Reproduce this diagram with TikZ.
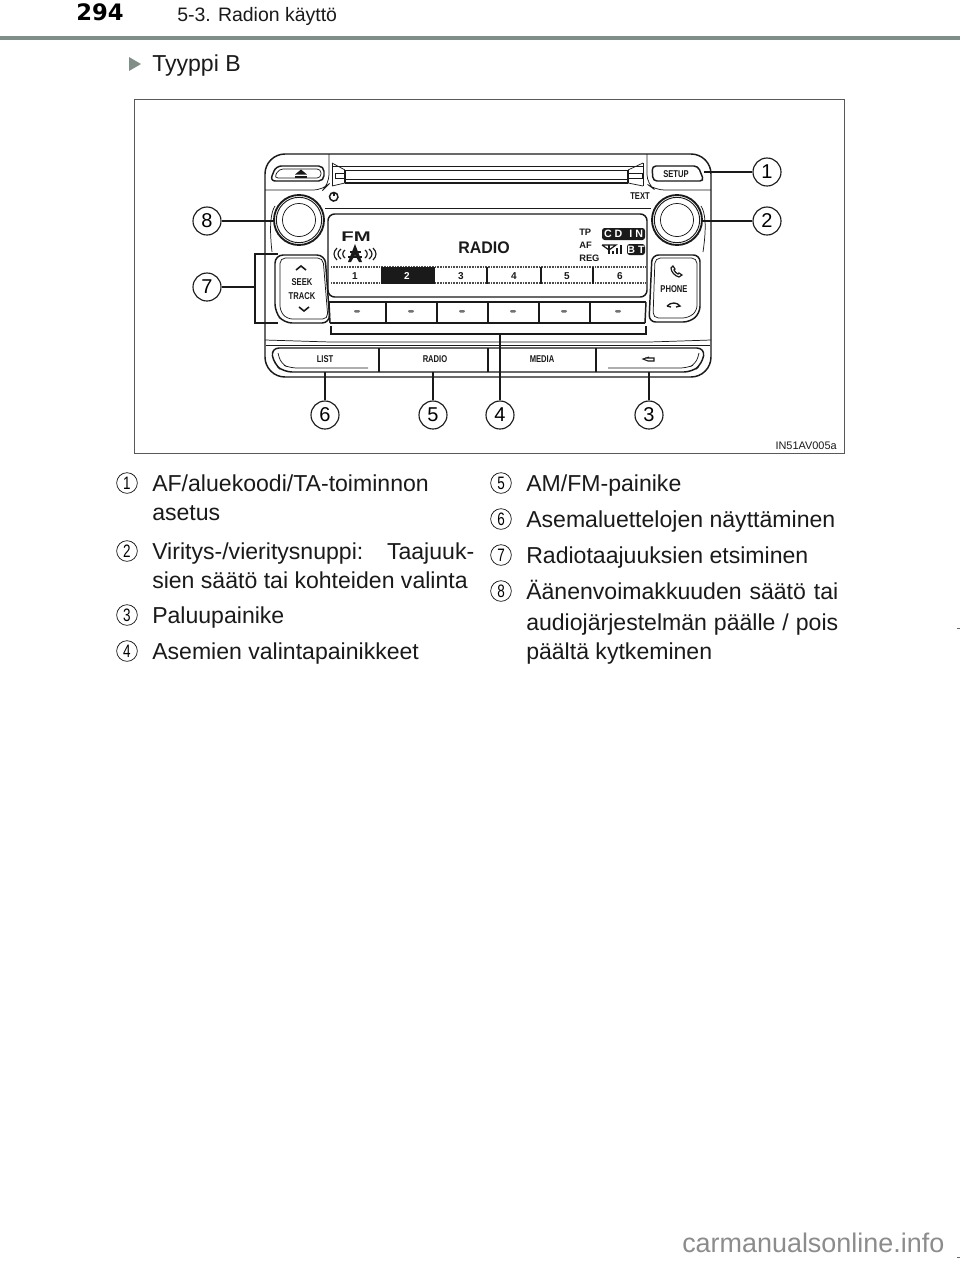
\documentclass[tikz,border=0pt]{standalone}
\usepackage{fontspec}
\setmainfont{Liberation Sans}
\newfontfamily\hdfont[Scale=1]{DejaVu Sans}
\definecolor{ink}{HTML}{1A1A1A}
\definecolor{rulegreen}{HTML}{7F8F88}
\newcommand{\lab}[1]{\scalebox{1}[1.3]{\bfseries #1}}
\newcommand{\stretched}[2]{\makebox[#1][s]{#2}}
\tikzset{
  thickl/.style={draw=ink,line width=1.1pt},
  thinl/.style={draw=ink,line width=0.55pt},
  frameline/.style={draw=black!65,line width=0.65pt},
  leader/.style={draw=ink,line width=0.8pt},
  callout/.style={circle,draw=ink,line width=0.85pt,fill=white,minimum size=21pt,inner sep=0pt,font=\fontsize{15}{15}\selectfont},
  itemnum/.style={circle,draw=ink,line width=0.55pt,minimum size=15.5pt,inner sep=0pt,font=\fontsize{13.5}{13.5}\selectfont},
  body/.style={anchor=base west,inner sep=0pt,font=\fontsize{17.3}{20}\selectfont,text=ink},
  radiolab/.style={inner sep=0pt,font=\fontsize{5.7}{6}\selectfont,text=ink},
  preset/.style={inner sep=0pt,font=\fontsize{7.5}{8}\bfseries\selectfont,text=ink},
  disp/.style={inner sep=0pt,font=\fontsize{7}{8}\bfseries\selectfont,text=ink},
}
\begin{document}
\begin{tikzpicture}[x=0.75pt,y=-0.75pt]
\useasboundingbox (0,0) rectangle (960,1261);
\fill[white] (0,0) rectangle (960,1261);
% header
\node[anchor=base west,inner sep=0pt,font=\hdfont\fontsize{17}{18}\bfseries\selectfont] (pageno) at (76,20) {294};
\node[anchor=base west,inner sep=0pt,font=\fontsize{14.6}{16}\selectfont,text=ink] (chap) at (177,21) {5-3. Radion käyttö};
\fill[rulegreen] (0,36) rectangle (960,40);
\fill[rulegreen] (129,57) -- (141,64) -- (129,71) -- cycle;
\node[body] (type) at (152,71) {Tyyppi B};
% frame
\draw[frameline] (134,99) rectangle (844,453);
\node[anchor=base east,inner sep=0pt,font=\fontsize{8.2}{9}\selectfont,text=ink] (code) at (837,449) {IN51AV005a};
% radio body
\draw[thickl,rounded corners=15pt] (265,154) rectangle (711,377);
% top pads
\draw[thinl,rounded corners=7pt] (265,190) -- (323,190) -- (329,184) -- (329,154);
\draw[thinl,rounded corners=7pt] (711,190) -- (655,190) -- (647,184) -- (647,154);
% eject button
\draw[thickl,rounded corners=4pt] (270,181) -- (276,166) -- (324,166) -- (324,181) -- cycle;
\draw[thinl,rounded corners=3pt] (274,178) -- (279,169) -- (321,169) -- (321,178) -- cycle;
\fill[ink] (295,174.5) -- (301,169.5) -- (307,174.5) -- cycle;
\fill[ink] (295,176) rectangle (307,178);
% slot
\draw[thinl] (345,170) -- (628,170);
\draw[thinl] (345,179) -- (628,179);
\draw[thinl] (332,166) -- (643,166);
\draw[thickl] (345,183) -- (628,183);
\draw[thinl] (332,163) -- (345,170) (332,186) -- (345,183);
\draw[thinl] (643,163) -- (628,170) (643,186) -- (628,183);
\draw[thinl] (332,163) -- (332,186) (643,163) -- (643,186);
\draw[thinl] (335,173) rectangle (345,178);
\draw[thinl] (628,173) rectangle (642,178);
\fill[ink] (344,170) rectangle (346,183);
\fill[ink] (627,170) rectangle (629,183);
% setup
\draw[thickl,rounded corners=3pt] (652,166) -- (698,166) -- (704,181) -- (653,181) -- cycle;
\node[radiolab] (setup) at (676,174) {\lab{SETUP}};
\node[radiolab] (text) at (640,196) {\lab{TEXT}};
% power icon
\draw[ink,line width=1.1pt] (334,192.5) -- (334,196);
\draw[ink,line width=1.1pt] (331,193.5) arc[start angle=130,end angle=-310+360-360,radius=3.2pt];
% line above display
\draw[thinl] (325,208) -- (651,208);
% knobs
\draw[ink,line width=1.4pt,fill=white] (299,220) circle (18.75pt);
\draw[ink,line width=0.7pt] (299,220) circle (17pt);
\draw[thinl] (299,220) circle (12.4pt);
\draw[ink,line width=1.4pt,fill=white] (677,220) circle (18.75pt);
\draw[ink,line width=0.7pt] (677,220) circle (17pt);
\draw[thinl] (677,220) circle (12.4pt);
\draw[thinl] (275,206) .. controls (271,212) and (269,225) .. (272,252);
\draw[thinl] (701,206) .. controls (705,212) and (707,225) .. (703,252);
% display
\draw[thickl,rounded corners=5pt] (328,214) rectangle (647,297);
\node[inner sep=0pt,font=\fontsize{12.6}{14}\bfseries\selectfont,text=ink] (radiotxt) at (484,248) {\scalebox{0.95}[1]{RADIO}};
\node[inner sep=0pt,font=\fontsize{10.5}{11}\bfseries\selectfont,text=ink] (fm) at (356,237) {\scalebox{1.45}[1]{FM}};
% tower and waves
\fill[ink] (355,244) -- (348,262) -- (351,262) -- (355,255) -- (359,262) -- (362,262) -- cycle;
\draw[ink,line width=1pt] (349.5,252) -- (360.5,252);
\draw[ink,line width=1pt] (348,257) -- (362,257);
\draw[ink,line width=0.9pt] (345,250) .. controls (342,252) and (342,256) .. (345,258);
\draw[ink,line width=0.9pt] (341,249) .. controls (337,252) and (337,256) .. (341,259);
\draw[ink,line width=0.9pt] (337,248) .. controls (333,252) and (333,256) .. (337,260);
\draw[ink,line width=0.9pt] (365,250) .. controls (368,252) and (368,256) .. (365,258);
\draw[ink,line width=0.9pt] (369,249) .. controls (373,252) and (373,256) .. (369,259);
\draw[ink,line width=0.9pt] (373,248) .. controls (377,252) and (377,256) .. (373,260);
% status
\node[disp,anchor=west] (tp) at (579,232) {TP};
\node[disp,anchor=west] (af) at (579,245) {AF};
\node[disp,anchor=west] (reg) at (579,258) {REG};
\fill[ink,rounded corners=2pt] (602,228) rectangle (645,240);
\node[inner sep=0pt,font=\fontsize{8}{8}\bfseries\selectfont,text=white] (cdin) at (623.5,234) {C D\hspace{3pt} I N};
\fill[ink,rounded corners=2pt] (627,244) rectangle (645,255);
\node[inner sep=0pt,font=\fontsize{8}{8}\bfseries\selectfont,text=white] (bt) at (636,249.5) {B T};
\draw[ink,line width=0.9pt] (602,245) -- (616,245) -- (609,250) -- (602,245);
\draw[ink,line width=1.1pt] (609,245) -- (609,254);
\draw[ink,line width=1.2pt] (613,254) -- (613,251) (617,254) -- (617,248) (621,254) -- (621,245);
% presets
\draw[black!70,line width=1.3pt,dash pattern=on 0.6pt off 0.6pt] (331,267) -- (645,267);
\draw[black!70,line width=1.3pt,dash pattern=on 0.6pt off 0.6pt] (331,283) -- (645,283);
\fill[ink] (383,267) rectangle (434,283.5);
\foreach \sx in {382,434,487,541,593}{\fill[ink] (\sx-1,267) rectangle (\sx+1,284);}
\node[preset] (p1) at (355,276) {1};
\node[preset,text=white] (p2) at (407,276) {2};
\node[preset] (p3) at (461,276) {3};
\node[preset] (p4) at (514,276) {4};
\node[preset] (p5) at (567,276) {5};
\node[preset] (p6) at (620,276) {6};
% button row below display
\draw[thickl] (329,302) -- (646,302);
\draw[thickl] (330,323) -- (645,323);
\draw[thickl] (329,302) -- (330,323) (646,302) -- (645,323);
\foreach \sx in {386,437,488,539,590}{\draw[thickl] (\sx,302) -- (\sx,323);}
\foreach \sx in {357,411,462,513,564,618}{\fill[black!55,rounded corners=0.8pt] (\sx-3,310) rectangle (\sx+3,312.5);}
% seek pad
\draw[thickl,rounded corners=6pt] (275,255) -- (325,255) -- (330,323) -- (284,323) -- (275,312) -- cycle;
\draw[thinl,rounded corners=4pt] (280,258) -- (323,258) -- (328,319) -- (287,319) -- (280,311) -- cycle;
\draw[ink,line width=1.2pt] (296,270) -- (301,266) -- (306,270);
\draw[ink,line width=1.2pt] (299,307) -- (304,311) -- (309,307);
\node[radiolab] (seek) at (302,282) {\lab{SEEK}};
\node[radiolab] (track) at (302,296) {\lab{TRACK}};
% phone pad
\draw[thickl,rounded corners=5pt] (652,255) -- (700,255) -- (700,313) -- (690,322) -- (649,322) -- cycle;
\draw[thinl,rounded corners=4pt] (655,258) -- (697,258) -- (697,311) -- (688,318) -- (653,318) -- cycle;
\node[radiolab] (phone) at (674,289) {\lab{PHONE}};
\draw[ink,line width=0.9pt] (671,268) .. controls (671,272) and (675,276) .. (679,277) -- (682,275) -- (679,273) -- (678,274) .. controls (676,273) and (675,272) .. (674,270) -- (675,269) -- (673,266) -- cycle;
\draw[ink,line width=1pt] (667,306) .. controls (671,302) and (677,302) .. (680,306) -- (676,307);
\draw[ink,line width=1pt] (667,306) -- (671,307);
% panel dividers
\draw[thinl,rounded corners=5pt] (265,340) -- (330,342) -- (650,342) -- (711,340);
\draw[thinl] (266,345) -- (710,345);
% bottom buttons
\draw[thickl,rounded corners=6pt] (271,348) -- (705,348) -- (702,364) -- (692,372) -- (284,372) -- (274,364) -- cycle;
\draw[thinl,rounded corners=5pt] (278,353) -- (281,364) -- (290,368) -- (368,368);
\draw[thinl,rounded corners=5pt] (699,353) -- (696,364) -- (687,368) -- (608,368);
\foreach \sx in {379,488,596}{\draw[thickl] (\sx,348) -- (\sx,372);}
\node[radiolab] (list) at (325,359) {\lab{LIST}};
\node[radiolab] (radiob) at (435,359) {\lab{RADIO}};
\node[radiolab] (media) at (542,359) {\lab{MEDIA}};
\draw[ink,line width=0.8pt] (649,357) -- (643,359) -- (648,361) -- (654,361) -- (654,358) -- (645,358);
% brackets
\draw[leader] (331,326) -- (331,334) -- (646,334) -- (646,326);
\draw[leader] (278,254) -- (255,254) -- (255,323) -- (278,323);
% callouts
\node[callout] (c1) at (767,172) {1};
\node[callout] (c2) at (767,221) {2};
\node[callout] (c3) at (649,415) {3};
\node[callout] (c4) at (500,415) {4};
\node[callout] (c5) at (433,415) {5};
\node[callout] (c6) at (325,415) {6};
\node[callout] (c7) at (207,287) {7};
\node[callout] (c8) at (207,221) {8};
\coordinate (e1) at (704,172);
\coordinate (e2) at (702,221);
\coordinate (e3) at (649,372);
\coordinate (e4) at (500,334);
\coordinate (e5) at (433,372);
\coordinate (e6) at (325,372);
\coordinate (e7) at (255,287);
\coordinate (e8) at (274,221);
\foreach \n in {1,...,8}{\draw[leader] (c\n) -- (e\n);}
% list left
\node[itemnum] (n1) at (127,483) {\scalebox{0.75}[1]{1}};
\node[body] (t1a) at (152,491) {AF/aluekoodi/TA-toiminnon};
\node[body] (t1b) at (152,520) {asetus};
\node[itemnum] (n2) at (127,551) {\scalebox{0.75}[1]{2}};
\node[body] (t2a) at (152,559) {\stretched{241.5pt}{Viritys-/vieritysnuppi:\hfill Taajuuk-}};
\node[body] (t2b) at (152,588) {sien säätö tai kohteiden valinta};
\node[itemnum] (n3) at (127,615) {\scalebox{0.75}[1]{3}};
\node[body] (t3) at (152,623) {Paluupainike};
\node[itemnum] (n4) at (127,651) {\scalebox{0.75}[1]{4}};
\node[body] (t4) at (152,659) {Asemien valintapainikkeet};
% list right
\node[itemnum] (n5) at (501,483) {\scalebox{0.75}[1]{5}};
\node[body] (t5) at (526,491) {AM/FM-painike};
\node[itemnum] (n6) at (501,519) {\scalebox{0.75}[1]{6}};
\node[body] (t6) at (526,527) {Asemaluettelojen näyttäminen};
\node[itemnum] (n7) at (501,555) {\scalebox{0.75}[1]{7}};
\node[body] (t7) at (526,563) {Radiotaajuuksien etsiminen};
\node[itemnum] (n8) at (501,591) {\scalebox{0.75}[1]{8}};
\node[body] (t8a) at (526,599) {\stretched{234pt}{Äänenvoimakkuuden\hfill säätö\hfill tai}};
\node[body] (t8b) at (526,630) {\stretched{234pt}{audiojärjestelmän\hfill päälle\hfill /\hfill pois}};
\node[body] (t8c) at (526,659) {päältä kytkeminen};
% watermark
\node[anchor=base west,inner sep=0pt,font=\fontsize{20.2}{22}\selectfont,text=black!45] (wm) at (682,1252) {carmanualsonline.info};
\fill[black!60] (957,628) rectangle (960,629);
\fill[black!60] (957,1257) rectangle (960,1258);
\end{tikzpicture}
\end{document}
